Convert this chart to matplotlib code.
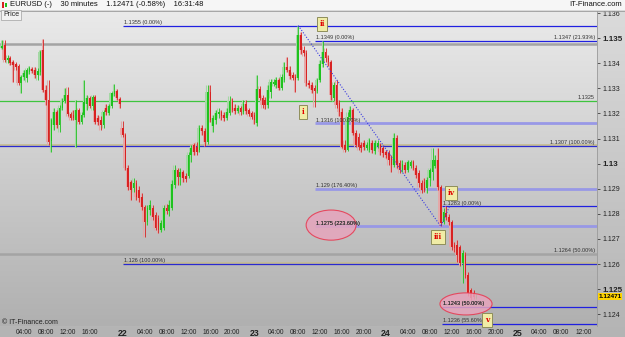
import matplotlib
matplotlib.use('Agg')
import matplotlib.pyplot as plt
import numpy as np
from matplotlib.patches import Ellipse, Rectangle

plt.rcParams['font.family'] = ['Liberation Sans', 'DejaVu Sans']

# EURUSD 30 min candles, slot 0 = 22 00:00, one slot = 30 min
first_slot = -44

opens = [
    1.13461, 1.13473, 1.13413, 1.13421, 1.13405, 1.13397, 1.13389, 1.13321, 1.13345, 1.13341,
    1.13365, 1.13377, 1.13373, 1.13353, 1.13365, 1.13453, 1.13293, 1.13254, 1.13090, 1.13154,
    1.13206, 1.13154, 1.13222, 1.13250, 1.13273, 1.13198, 1.13194, 1.13174, 1.13214, 1.13166,
    1.13194, 1.13238, 1.13261, 1.13230, 1.13265, 1.13182, 1.13174, 1.13154, 1.13222, 1.13202,
    1.13230, 1.13277, 1.13289, 1.13258,
    1.13142, 1.13114, 1.12983, 1.12927, 1.12903, 1.12923, 1.12895, 1.12867, 1.12827, 1.12768,
    1.12815, 1.12823, 1.12795, 1.12784, 1.12736, 1.12744, 1.12823, 1.12811, 1.12823, 1.12915,
    1.12975, 1.12947, 1.12967, 1.12951, 1.12951, 1.13034, 1.13074, 1.13066, 1.13054, 1.13142,
    1.13130, 1.13086, 1.13285, 1.13150, 1.13174, 1.13198, 1.13206, 1.13194, 1.13182, 1.13202,
    1.13250, 1.13222, 1.13210, 1.13222, 1.13206, 1.13238, 1.13214, 1.13202, 1.13194, 1.13162,
    1.13297, 1.13261, 1.13254, 1.13234, 1.13285, 1.13317, 1.13313, 1.13333, 1.13301, 1.13333,
    1.13385, 1.13373, 1.13353, 1.13345, 1.13341, 1.13513, 1.13453, 1.13441, 1.13321, 1.13313,
    1.13301, 1.13289, 1.13333, 1.13397, 1.13445, 1.13421, 1.13405, 1.13261, 1.13313, 1.13242,
    1.13206, 1.13074, 1.13054, 1.13186, 1.13214, 1.13122, 1.13106, 1.13074, 1.13082, 1.13062,
    1.13054, 1.13082, 1.13050, 1.13070, 1.13074, 1.13062, 1.13046, 1.13042, 1.13023, 1.12995,
    1.13102, 1.13003, 1.12975, 1.12995, 1.12975, 1.12991, 1.13007, 1.12983, 1.12963, 1.12923,
    1.12927, 1.12903, 1.12943, 1.12967, 1.12991, 1.13015, 1.12907, 1.12768, 1.12803, 1.12787,
    1.12768, 1.12676, 1.12676, 1.12668, 1.12604, 1.12636, 1.12556, 1.12497, 1.12485, 1.12465,
]
highs = [
    1.13493, 1.13493, 1.13433, 1.13429, 1.13413, 1.13405, 1.13397, 1.13353, 1.13373, 1.13381,
    1.13389, 1.13385, 1.13385, 1.13381, 1.13453, 1.13497, 1.13313, 1.13333, 1.13182, 1.13222,
    1.13214, 1.13234, 1.13261, 1.13301, 1.13305, 1.13206, 1.13214, 1.13254, 1.13222, 1.13206,
    1.13333, 1.13273, 1.13269, 1.13273, 1.13273, 1.13194, 1.13190, 1.13214, 1.13238, 1.13238,
    1.13285, 1.13317, 1.13297, 1.13265,
    1.13170, 1.13122, 1.12995, 1.12935, 1.12943, 1.12935, 1.12911, 1.12883, 1.12835, 1.12835,
    1.12855, 1.12835, 1.12807, 1.12795, 1.12776, 1.12835, 1.12839, 1.12855, 1.12935, 1.12995,
    1.12983, 1.12983, 1.12975, 1.12963, 1.13046, 1.13074, 1.13082, 1.13086, 1.13154, 1.13154,
    1.13142, 1.13313, 1.13313, 1.13194, 1.13214, 1.13222, 1.13214, 1.13206, 1.13222, 1.13269,
    1.13261, 1.13238, 1.13234, 1.13230, 1.13254, 1.13254, 1.13222, 1.13210, 1.13206, 1.13353,
    1.13309, 1.13273, 1.13265, 1.13313, 1.13337, 1.13337, 1.13345, 1.13341, 1.13357, 1.13405,
    1.13425, 1.13389, 1.13365, 1.13357, 1.13550, 1.13525, 1.13469, 1.13453, 1.13333, 1.13325,
    1.13313, 1.13341, 1.13413, 1.13490, 1.13461, 1.13433, 1.13413, 1.13325, 1.13333, 1.13254,
    1.13222, 1.13094, 1.13206, 1.13230, 1.13222, 1.13134, 1.13122, 1.13086, 1.13094, 1.13086,
    1.13102, 1.13094, 1.13094, 1.13094, 1.13082, 1.13070, 1.13054, 1.13054, 1.13034, 1.13122,
    1.13114, 1.13015, 1.13015, 1.13007, 1.13015, 1.13015, 1.13015, 1.12995, 1.12975, 1.12935,
    1.12943, 1.12947, 1.12983, 1.13062, 1.13034, 1.13062, 1.12915, 1.12823, 1.12830, 1.12799,
    1.12776, 1.12688, 1.12696, 1.12676, 1.12656, 1.12648, 1.12568, 1.12505, 1.12497, 1.12481,
]
lows = [
    1.13457, 1.13405, 1.13401, 1.13393, 1.13325, 1.13373, 1.13313, 1.13281, 1.13333, 1.13325,
    1.13357, 1.13361, 1.13341, 1.13333, 1.13353, 1.13285, 1.13234, 1.13074, 1.13046, 1.13134,
    1.13142, 1.13126, 1.13214, 1.13242, 1.13190, 1.13174, 1.13174, 1.13066, 1.13158, 1.13158,
    1.13186, 1.13214, 1.13222, 1.13214, 1.13158, 1.13154, 1.13134, 1.13142, 1.13194, 1.13194,
    1.13222, 1.13269, 1.13254, 1.13222,
    1.13106, 1.12975, 1.12895, 1.12855, 1.12887, 1.12855, 1.12847, 1.12815, 1.12708, 1.12756,
    1.12795, 1.12776, 1.12736, 1.12724, 1.12728, 1.12736, 1.12799, 1.12791, 1.12815, 1.12903,
    1.12915, 1.12915, 1.12927, 1.12927, 1.12943, 1.13007, 1.13034, 1.13034, 1.13046, 1.13114,
    1.13070, 1.13078, 1.13166, 1.13126, 1.13158, 1.13182, 1.13174, 1.13170, 1.13174, 1.13194,
    1.13206, 1.13198, 1.13202, 1.13194, 1.13198, 1.13198, 1.13190, 1.13178, 1.13158, 1.13150,
    1.13254, 1.13222, 1.13218, 1.13222, 1.13261, 1.13309, 1.13301, 1.13293, 1.13293, 1.13325,
    1.13365, 1.13337, 1.13333, 1.13285, 1.13333, 1.13437, 1.13429, 1.13309, 1.13301, 1.13281,
    1.13226, 1.13281, 1.13325, 1.13385, 1.13405, 1.13389, 1.13254, 1.13250, 1.13222, 1.13190,
    1.13062, 1.13046, 1.13050, 1.13174, 1.13114, 1.13066, 1.13054, 1.13046, 1.13054, 1.13054,
    1.13046, 1.13042, 1.13038, 1.13062, 1.13034, 1.13027, 1.13023, 1.12995, 1.12967, 1.12987,
    1.12983, 1.12963, 1.12967, 1.12963, 1.12967, 1.12983, 1.12975, 1.12943, 1.12907, 1.12883,
    1.12887, 1.12883, 1.12911, 1.12935, 1.12983, 1.12895, 1.12750, 1.12760, 1.12776, 1.12756,
    1.12656, 1.12648, 1.12608, 1.12594, 1.12524, 1.12544, 1.12473, 1.12457, 1.12461, 1.12461,
]
closes = [
    1.13469, 1.13413, 1.13421, 1.13401, 1.13393, 1.13385, 1.13321, 1.13345, 1.13361, 1.13373,
    1.13381, 1.13369, 1.13353, 1.13369, 1.13445, 1.13293, 1.13254, 1.13086, 1.13174, 1.13206,
    1.13154, 1.13222, 1.13250, 1.13273, 1.13198, 1.13182, 1.13182, 1.13214, 1.13166, 1.13194,
    1.13246, 1.13261, 1.13230, 1.13265, 1.13166, 1.13166, 1.13154, 1.13206, 1.13206, 1.13230,
    1.13281, 1.13289, 1.13261, 1.13238,
    1.13114, 1.12983, 1.12907, 1.12895, 1.12923, 1.12867, 1.12863, 1.12827, 1.12768, 1.12823,
    1.12835, 1.12787, 1.12744, 1.12736, 1.12764, 1.12823, 1.12811, 1.12835, 1.12919, 1.12975,
    1.12947, 1.12967, 1.12943, 1.12939, 1.13034, 1.13062, 1.13046, 1.13046, 1.13142, 1.13130,
    1.13086, 1.13285, 1.13174, 1.13182, 1.13202, 1.13206, 1.13190, 1.13182, 1.13206, 1.13250,
    1.13214, 1.13210, 1.13222, 1.13206, 1.13238, 1.13210, 1.13198, 1.13186, 1.13174, 1.13297,
    1.13261, 1.13234, 1.13234, 1.13293, 1.13325, 1.13325, 1.13333, 1.13301, 1.13345, 1.13385,
    1.13373, 1.13349, 1.13341, 1.13333, 1.13513, 1.13453, 1.13441, 1.13321, 1.13313, 1.13293,
    1.13289, 1.13333, 1.13397, 1.13445, 1.13421, 1.13405, 1.13273, 1.13313, 1.13234, 1.13206,
    1.13066, 1.13054, 1.13186, 1.13214, 1.13122, 1.13074, 1.13066, 1.13062, 1.13066, 1.13074,
    1.13094, 1.13054, 1.13082, 1.13082, 1.13046, 1.13042, 1.13034, 1.13015, 1.12995, 1.13102,
    1.12995, 1.12975, 1.12999, 1.12975, 1.13007, 1.13007, 1.12983, 1.12955, 1.12923, 1.12895,
    1.12895, 1.12935, 1.12975, 1.13015, 1.13015, 1.12907, 1.12764, 1.12807, 1.12787, 1.12768,
    1.12668, 1.12664, 1.12636, 1.12604, 1.12644, 1.12556, 1.12485, 1.12465, 1.12469, 1.12471,
]

# x axis labels (slot positions)
tick_slots = [-36, -28, -20, -12, 0, 8, 16, 24, 32, 40, 48, 56, 64, 72, 80, 88,
              96, 104, 112, 120, 128, 136, 144, 152, 160, 168]
tick_labels = ['04:00', '08:00', '12:00', '16:00', '22', '04:00', '08:00', '12:00',
               '16:00', '20:00', '23', '04:00', '08:00', '12:00', '16:00', '20:00',
               '24', '04:00', '08:00', '12:00', '16:00', '20:00', '25', '04:00',
               '08:00', '12:00']
day_labels = ['22', '23', '24', '25']

price_ticks = [1.136, 1.135, 1.134, 1.133, 1.132, 1.131, 1.130, 1.129, 1.128,
               1.127, 1.126, 1.125, 1.124]
price_tick_labels = ['1.136', '1.135', '1.134', '1.133', '1.132', '1.131', '1.13',
                     '1.129', '1.128', '1.127', '1.126', '1.125', '1.124']
major_prices = ['1.135', '1.13', '1.125']

# horizontal levels: price, start slot, label, label at right?, style
levels = [
    (1.13478, -50, '', False, 'gray'),
    (1.1355, 0, '1.1355 (0.00%)', False, 'blue'),
    (1.1349, 70, '1.1349 (0.00%)', False, 'blue'),
    (1.1325, -50, '1.1325', True, 'green'),
    (1.1316, 70, '1.1316 (100.00%)', False, 'lav'),
    (1.1307, -50, '1.1307 (100.00%)', True, 'blue2'),
    (1.1290, 70, '1.129 (176.40%)', False, 'lav'),
    (1.1283, 116.3, '1.1283 (0.00%)', False, 'blue'),
    (1.1275, 70, '1.1275 (223.60%)', False, 'lav'),
    (1.1264, -50, '1.1264 (50.00%)', True, 'gray'),
    (1.1260, 0, '1.126 (100.00%)', False, 'blue2'),
    (1.1243, 116.3, '1.1243 (50.00%)', False, 'blue'),
    (1.1236, 116.3, '1.1236 (55.60%)', False, 'blue'),
]

waves = [('i', 65.8, 1.13206), ('ii', 72.7, 1.13556), ('iii', 115.0, 1.12708),
         ('iv', 119.7, 1.12883), ('v', 132.9, 1.12377)]

last_price = 1.12471

W, H = 625, 337
fig = plt.figure(figsize=(W / 100, H / 100), dpi=100)
fig.patch.set_facecolor('#c6c6c6')

# figure background gradient (light top, darker bottom)
bg = fig.add_axes([0, 0, 1, 1], zorder=-5)
panel = matplotlib.colors.LinearSegmentedColormap.from_list('g', ['#dcdcdc', '#b4b4b4'])
bg.imshow(np.linspace(0, 1, 100).reshape(-1, 1), cmap=panel, aspect='auto',
          extent=[0, 1, 0, 1], origin='upper')
bg.axis('off')

ax = fig.add_axes([0, 11 / H, 597 / W, 315 / H])
x_left, x_right = -44.75, 172.97
y_low, y_high = 1.12353, 1.13608

grad = matplotlib.colors.LinearSegmentedColormap.from_list('p', ['#eaeaea', '#b0b0b0'])
ax.imshow(np.linspace(0, 1, 200).reshape(-1, 1), cmap=grad, aspect='auto',
          extent=[x_left, x_right, y_low, y_high], origin='upper', zorder=0)
ax.set_xlim(x_left, x_right)
ax.set_ylim(y_low, y_high)

lbl_size = 4.0

# levels
for price, start, label, right, style in levels:
    if style == 'gray':
        ax.hlines(price, start, x_right, color='#a4a4a4', lw=1.8, zorder=1)
    elif style == 'green':
        ax.hlines(price, start, x_right, color='#3ec43e', lw=0.9, zorder=1)
    elif style == 'lav':
        ax.hlines(price, start, x_right, color='#9898e6', lw=2.0, zorder=1)
    elif style == 'blue2':
        ax.hlines(price + 0.00003, start, x_right, color='#c4bc90', lw=1.2, zorder=1)
        ax.hlines(price, start, x_right, color='#2a2ad0', lw=0.9, zorder=1)
    else:
        ax.hlines(price, start, x_right, color='#2020e0', lw=0.9, zorder=1)
    if label:
        if right:
            ax.text(x_right - 0.8, price + 0.00003, label, fontsize=lbl_size, color='#333333',
                    ha='right', va='bottom', zorder=6)
        else:
            ax.text(start + 0.5, price + 0.00003, label, fontsize=lbl_size, color='#333333',
                    ha='left', va='bottom', zorder=6)
ax.text(x_right - 0.8, 1.1349 + 0.00003, '1.1347 (21.93%)', fontsize=lbl_size, color='#333333',
        ha='right', va='bottom', zorder=6)

# candles
slots = np.arange(len(closes)) + first_slot
opens_a, highs_a, lows_a, closes_a = map(np.array, (opens, highs, lows, closes))
up = closes_a >= opens_a
colors = np.where(up, '#1ec21e', '#d82222')
shadow = np.where(up, '#a4d8a4', '#e4a8a8')
body_lo = np.minimum(opens_a, closes_a)
body_h = np.maximum(np.abs(closes_a - opens_a), 0.00003)
ax.vlines(slots - 0.5, lows_a, highs_a, color=shadow, lw=0.8, zorder=2)
ax.bar(slots - 0.45, body_h, bottom=body_lo, width=0.8, color=shadow, lw=0, zorder=2)
ax.vlines(slots, lows_a, highs_a, color=colors, lw=0.6, zorder=3)
ax.bar(slots, body_h, bottom=body_lo, width=0.6, color=colors, lw=0, zorder=3)

# ellipses
ax.add_patch(Ellipse((76.0, 1.12755), 18.2, 0.00120, fc='#e6a4bc', ec='#e8364e',
                     lw=0.8, alpha=0.85, zorder=4))
ax.add_patch(Ellipse((125.2, 1.12441), 19.0, 0.00088, fc='#e6a4bc', ec='#e8364e',
                     lw=0.8, alpha=0.85, zorder=4))
ax.text(70.5, 1.1275 + 0.00003, '1.1275 (223.60%)', fontsize=lbl_size, color='#333333',
        ha='left', va='bottom', zorder=6)
ax.text(116.8, 1.1243 + 0.00003, '1.1243 (50.00%)', fontsize=lbl_size, color='#333333',
        ha='left', va='bottom', zorder=6)

# elliott dotted line
ax.plot([64, 116, 119.2], [1.1355, 1.1275, 1.1283], color='#3a3ae0', lw=0.8,
        ls=(0, (1, 1.5)), zorder=5)

# wave boxes
for name, sx, py in waves:
    ax.text(sx, py, name, fontsize=5.4, color='#e00000', fontweight='bold',
            family='DejaVu Serif', ha='center', va='center', zorder=7,
            bbox=dict(boxstyle='square,pad=0.35', fc='#f0eca6', ec='#8e8e5a', lw=0.7))

# axes styling
for s in ax.spines.values():
    s.set_visible(False)
ax.yaxis.tick_right()
ax.set_yticks(price_ticks)
ax.set_yticklabels(price_tick_labels)
ax.tick_params(axis='y', length=2, width=0.5, pad=2, labelsize=5, colors='#222222')
for t in ax.get_yticklabels():
    if t.get_text() in major_prices:
        t.set_fontweight('bold')
        t.set_fontsize(5.8)
ax.set_xticks(tick_slots)
ax.set_xticklabels(tick_labels)
ax.tick_params(axis='x', length=0, pad=2.5, labelsize=4.8, colors='#222222')
for t in ax.get_xticklabels():
    if t.get_text() in day_labels:
        t.set_fontweight('bold')
        t.set_fontsize(6.3)

# current price tag
ax.annotate('1.12471', xy=(1.0, last_price), xycoords=('axes fraction', 'data'),
            xytext=(1.0, 0), textcoords='offset points', fontsize=4.6, fontweight='bold',
            va='center', ha='left', annotation_clip=False,
            bbox=dict(boxstyle='square,pad=0.12', fc='#ffd400', ec='none'))

# plot divider on the right
fig.add_artist(plt.Line2D([597 / W, 597 / W], [11 / H, 1 - 11 / H], color='#9a9a9a', lw=0.6))

# header
fig.add_artist(Rectangle((0, 1 - 10 / H), 1, 10 / H, transform=fig.transFigure,
                         fc='#f6f6f6', ec='none', zorder=10))
fig.add_artist(plt.Line2D([0, 1], [1 - 10.5 / H, 1 - 10.5 / H], color='#9a9a9a', lw=0.6, zorder=11))
fig.add_artist(Rectangle((2 / W, 1 - 8 / H), 2 / W, 6 / H, transform=fig.transFigure,
                         fc='#d82222', ec='none', zorder=11))
fig.add_artist(Rectangle((5 / W, 1 - 7 / H), 2 / W, 4 / H, transform=fig.transFigure,
                         fc='#1ec21e', ec='none', zorder=11))
fig.text(10 / W, 1 - 5 / H, 'EURUSD (-)    30 minutes    1.12471 (-0.58%)    16:31:48',
         fontsize=5.5, color='#111111', va='center', ha='left', zorder=12)
fig.text(622 / W, 1 - 5 / H, 'IT-Finance.com', fontsize=5.5, color='#111111',
         va='center', ha='right', zorder=12)

# Price box and copyright
fig.text(3 / W, 1 - 15 / H, 'Price', fontsize=5, color='#222222', va='center', ha='left',
         zorder=12, bbox=dict(boxstyle='square,pad=0.25', fc='#f2f2f2', ec='#a0a0a0', lw=0.5))
fig.text(2 / W, 1 - 323 / H, '\u00a9 IT-Finance.com', fontsize=5, color='#222222',
         va='center', ha='left', zorder=12)

fig.savefig('out.png', dpi=100)
